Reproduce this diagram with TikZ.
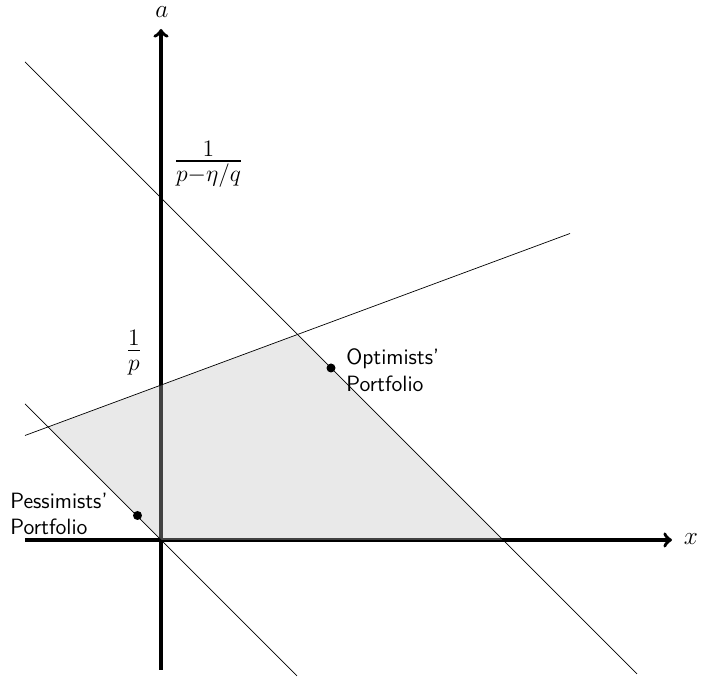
\documentclass[tikz,border=0pt]{standalone}
\usepackage{amsmath,amssymb}
\usepackage{xcolor}
\usepackage{tikz}

\begin{document}
\begin{tikzpicture}[
    axis/.style={line width=2pt, ->},
    budget/.style={thin},
    region/.style={fill=black!25, fill opacity=0.35},
    pt/.style={circle, fill=black, inner sep=0pt, minimum size=0.18cm},
    frac/.style={font=\fontsize{18}{22}\selectfont, scale=1.12, transform shape},
    tag/.style={font=\sffamily\fontsize{12.6}{15.2}\selectfont, align=left, inner sep=0pt}
  ]
    \useasboundingbox (-3.22,-2.78) rectangle (10.8,10.8);
    % Axes
    \coordinate (origin) at (0,0);
    \coordinate (xstart) at (-2.72,0);
    \coordinate (xend) at (10.22,0);
    \coordinate (ystart) at (0,-2.6);
    \coordinate (yend) at (0,10.22);
    \draw[axis] (xstart) -- (xend);
    \draw[axis] (ystart) -- (yend);
    \node (xlab) [anchor=base, inner sep=0pt] at (10.6,-0.1) {\Large $x$};
    \node (alab) [anchor=base, inner sep=0pt] at (0.02,10.44) {\Large $a$};

    % Lines
    \coordinate (up1) at (-2.72,9.56);
    \coordinate (up2) at (9.52,-2.68);
    \coordinate (lo1) at (-2.72,2.72);
    \coordinate (lo2) at (2.72,-2.72);
    \coordinate (ri1) at (-2.72,2.09);
    \coordinate (ri2) at (8.18,6.13);
    \coordinate (left) at (intersection of lo1--lo2 and ri1--ri2);
    \coordinate (top) at (intersection of up1--up2 and ri1--ri2);
    \coordinate (foot) at (intersection of up1--up2 and xstart--xend);

    % Shaded set
    \fill[region] (left) -- (top) -- (foot) -- (origin) -- cycle;

    \draw[budget] (up1) -- (up2);
    \draw[budget] (lo1) -- (lo2);
    \draw[budget] (ri1) -- (ri2);

    % Labels on the a-axis
    \node (high) [frac] at (0.95,7.52) {$\frac{1}{p-\eta/q}$};
    \node (low) [frac] at (-0.54,3.74) {$\frac{1}{p}$};

    % Portfolios
    \node (opt) [pt] at (3.4,3.44) {};
    \node (pes) [pt] at (-0.47,0.49) {};
    \node (optlab) [tag, anchor=west] at (3.7,3.4) {Optimists'\\Portfolio};
    \node (peslab) [tag, anchor=west] at (-3.02,0.52) {Pessimists'\\Portfolio};
\end{tikzpicture}
\end{document}
